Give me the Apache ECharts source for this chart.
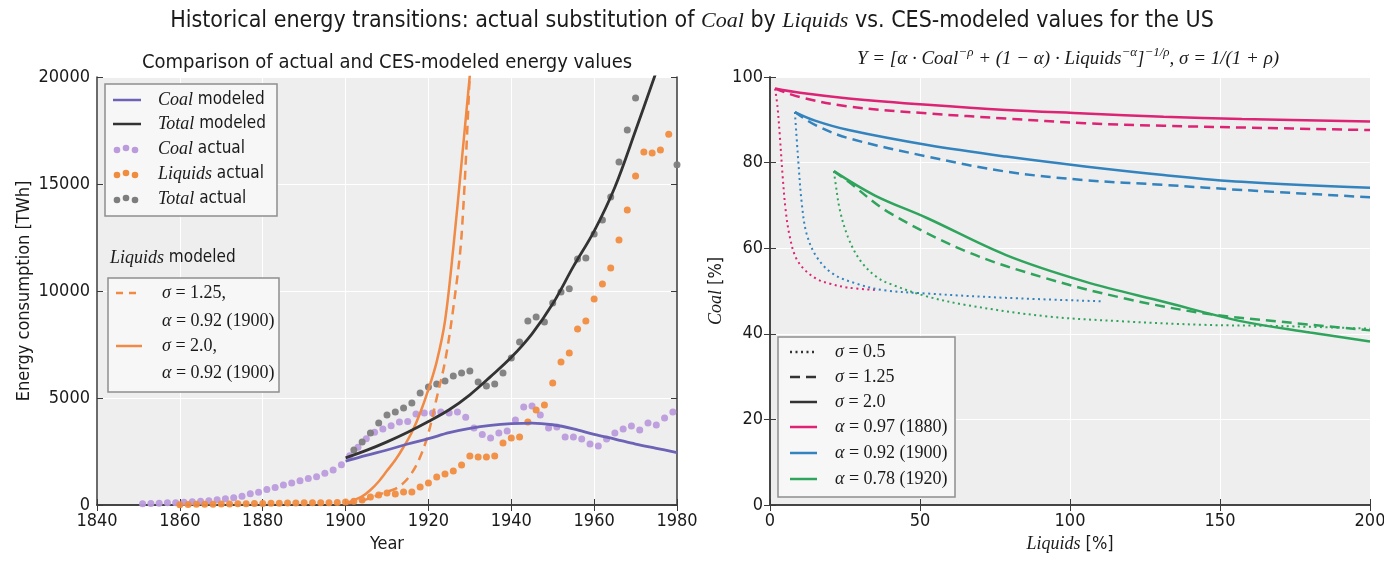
<!DOCTYPE html>
<html>
<head>
<meta charset="utf-8">
<script src="https://cdn.jsdelivr.net/npm/echarts/dist/echarts.min.js"></script>
<style>
  html, body { margin: 0; padding: 0; background: #fff; }
  #chart { width: 1384px; height: 561px; }
</style>
</head>
<body>
<div id="chart"></div>
<script>
// ---- left panel: actual values (dots) ----
const coalYears = [1851,1853,1855,1857,1859,1861,1863,1865,1867,1869,1871,1873,1875,1877,1879,1881,1883,1885,1887,1889,
  1891,1893,1895,1897,1899,1901,1903,1905,1907,1909,1911,1913,1915,1917,1919,1921,1923,1925,1927,1929,
  1931,1933,1935,1937,1939,1941,1943,1945,1947,1949,1951,1953,1955,1957,1959,1961,1963,1965,1967,1969,
  1971,1973,1975,1977,1979];
const coalActual = [60,70,80,100,110,130,150,170,200,240,290,340,410,520,600,730,820,930,1030,1130,
  1240,1320,1480,1640,1880,2300,2700,3100,3400,3550,3700,3880,3900,4250,4300,4300,4350,4300,4350,4100,
  3600,3300,3130,3360,3460,3970,4580,4630,4200,3600,3650,3180,3180,3080,2850,2760,3080,3360,3550,3690,
  3500,3830,3740,4070,4350];

const liquidsYears = [1860,1862,1864,1866,1868,1870,1872,1874,1876,1878,1880,1882,1884,1886,1888,1890,1892,1894,1896,1898,
  1900,1902,1904,1906,1908,1910,1912,1914,1916,1918,1920,1922,1924,1926,1928,1930,1932,1934,1936,1938,
  1940,1942,1944,1946,1948,1950,1952,1954,1956,1958,1960,1962,1964,1966,1968,1970,1972,1974,1976,1978];
const liquidsActual = [10,20,30,40,40,50,50,60,60,70,70,80,80,90,90,100,100,100,110,120,
  140,180,230,370,470,560,510,610,610,840,1030,1310,1450,1590,1870,2290,2240,2240,2290,2900,
  3130,3180,3880,4440,4670,5700,6680,7100,8220,8600,9630,10330,11070,12380,13790,15370,16500,16450,16590,17330];

const totalYears = [1902,1904,1906,1908,1910,1912,1914,1916,1918,1920,1922,1924,1926,1928,1930,1932,1934,1936,1938,1940,
  1942,1944,1946,1948,1950,1952,1954,1956,1958,1960,1962,1964,1966,1968,1970,1980];
const totalActual = [2570,2940,3360,3830,4200,4350,4530,4770,5230,5510,5650,5800,6030,6170,6260,5750,5560,5650,6170,6870,
  7620,8600,8790,8550,9440,9950,10100,11500,11540,12660,13320,14390,16030,17520,19020,15900];

// ---- left panel: modeled curves ----
const coalModelYears = [1900,1905,1910,1915,1920,1925,1930,1935,1940,1945,1950,1955,1960,1965,1970,1975,1980];
const coalModel = [2050,2320,2570,2850,3100,3380,3580,3720,3800,3830,3750,3560,3300,3080,2850,2650,2450];
const totalModelYears = [1900,1905,1910,1915,1920,1925,1930,1935,1940,1945,1950,1955,1960,1965,1970,1975];
const totalModel = [2200,2550,2950,3400,3900,4450,5150,6000,6900,8000,9400,11150,12800,14850,17500,20250];
const liqModelYears = [1900,1902,1904,1906,1908,1910,1912,1914,1916,1918,1920,1922,1924,1926,1928,1930];
const liqSigma125 = [80,120,200,320,480,620,750,1030,1500,2240,3360,5000,6700,9200,12600,20300];
const liqSigma2 = [80,230,400,700,1100,1600,2100,2710,3400,4300,5400,6700,8600,12000,16000,20100];

// ---- right panel: Liquids [%] (x) vs Coal [%] (y) ----
const a97s05X = [1.7,2.5,3.3,4.2,5.2,6.5,8.5,11.5,15.6,20,26,36];
const a97s05Y = [97.3,93,86,77,69,63,58,55,52.8,51.7,50.8,50.2];
const a97s125X = [1.7,10,26.2,52.5,78.7,105,131.2,157.3,200];
const a97s125Y = [97.3,95.3,93.1,91.5,90.3,89.2,88.6,88.2,87.6];
const a97s2X = [1.7,10,26.2,52.5,78.7,105,131.2,157.3,200];
const a97s2Y = [97.3,96.3,95,93.5,92.3,91.5,90.7,90.2,89.6];

const a92s05X = [8.3,9.4,10.6,12.2,15.6,21,28.9,37.8,52.5,78.7,110.2];
const a92s05Y = [91.8,80.6,70.4,63.4,57.9,54,51.7,50.2,49.4,48.4,47.6];
const a92s125X = [8.3,15,26.2,52.5,78.7,105,131.2,157.3,200];
const a92s125Y = [91.8,88.8,85.7,81.4,77.9,75.9,74.8,73.6,71.9];
const a92s2X = [8.3,15,26.2,52.5,78.7,105,131.2,157.3,200];
const a92s2Y = [91.8,89.8,87.6,84.1,81.4,79.1,77.1,75.5,74.1];

const a78s05X = [21.3,21.7,23.3,26,30,35.5,41,52,65.6,91.9,118,144.4,170.6,200];
const a78s05Y = [78,75.9,68.9,62.6,57.2,53.3,51.4,48.8,46.7,44.1,42.9,42.1,41.8,41.2];
const a78s125X = [21.3,26.2,39.3,65.6,91.9,118,144.4,170.6,200];
const a78s125Y = [78,75.5,68.5,59.2,53,48.3,44.8,42.8,40.8];
const a78s2X = [21.3,35,52.5,78.7,105,131.2,157.3,180,200];
const a78s2Y = [78,72.3,67,58.4,52.2,47.5,42.9,40.3,38.2];

// ---- ticks ----
const yearTicks = { min: 1840, max: 1980, interval: 20 };
const energyTicks = { min: 0, max: 20000, interval: 5000 };
const liqPctTicks = { min: 0, max: 200, interval: 50 };
const coalPctTicks = { min: 0, max: 100, interval: 20 };

// colours
const cCoalModel = '#6c62b6';
const cTotalModel = '#333333';
const cCoalDot = '#bb9bdc';
const cLiqDot = '#f08c3e';
const cTotalDot = '#7d7d7d';
const cLiqModel = '#f08a45';
const cPink = '#dc2374';
const cBlue = '#3283be';
const cGreen = '#2fa45c';

const SANS = "'DejaVu Sans Condensed', 'Liberation Sans Narrow', 'DejaVu Sans'";
const SERIF = 'Liberation Serif';
const DOT = [2, 3.5];
const DASH = [10, 6];

const pairs = (xs, ys) => xs.map((x, i) => [x, ys[i]]);

const axisLine = { show: true, lineStyle: { color: '#3a3a3a', width: 1.5 } };
const axisTick = { show: true, inside: true, length: 6, lineStyle: { color: '#3a3a3a', width: 1 } };
const splitLine = { show: true, lineStyle: { color: '#ffffff', width: 1 } };
const axisLabel = { color: '#1a1a1a', fontSize: 18, fontFamily: SANS, margin: 7, formatter: v => String(v) };
const nameStyle = { color: '#1a1a1a', fontSize: 18, fontFamily: SANS,
  rich: { i: { fontFamily: SERIF, fontStyle: 'italic', fontSize: 18, color: '#1a1a1a' } } };

function mainAxis(grid, ticks, pos, name, gap) {
  return Object.assign({ gridIndex: grid, type: 'value', position: pos, axisLine, axisTick,
    axisLabel, splitLine, name, nameLocation: 'middle', nameGap: gap, nameTextStyle: nameStyle }, ticks);
}
function frameAxis(grid, ticks, pos) {
  return Object.assign({ gridIndex: grid, type: 'value', position: pos, axisLine, axisTick,
    axisLabel: { show: false }, splitLine: { show: false } }, ticks);
}

function line(name, xi, xs, ys, color, type, width) {
  return { name, type: 'line', xAxisIndex: xi, yAxisIndex: xi, data: pairs(xs, ys),
    showSymbol: false, smooth: 0.35, clip: true,
    lineStyle: { color, width: width || 2.5, type: type || 'solid', cap: 'butt' } };
}
function dots(name, xs, ys, color) {
  return { name, type: 'scatter', xAxisIndex: 0, yAxisIndex: 0, data: pairs(xs, ys),
    symbolSize: 7, clip: true, itemStyle: { color, opacity: 0.95 } };
}

const serifRich = {
  g: { fontFamily: SERIF, fontStyle: 'italic', fontSize: 18, fill: '#1a1a1a' },
  n: { fontFamily: SERIF, fontSize: 18, fill: '#1a1a1a' },
  i: { fontFamily: SERIF, fontStyle: 'italic', fontSize: 18, fill: '#1a1a1a' },
  s: { fontFamily: SANS, fontSize: 17, fill: '#1a1a1a' }
};
function txt(x, y, text, extra) {
  return Object.assign({ type: 'text', x, y, z: 100,
    style: { text, fill: '#1a1a1a', fontFamily: SANS, fontSize: 17, align: 'left', verticalAlign: 'middle', rich: serifRich } }, extra || {});
}
function legLine(x1, x2, y, color, dash) {
  return { type: 'line', z: 100, shape: { x1, y1: y, x2, y2: y },
    style: { stroke: color, lineWidth: 2.5, lineDash: dash || null } };
}
function legDots(x, y, color) {
  return [[x, y + 1], [x + 9, y - 1], [x + 18, y + 1]].map(p => ({ type: 'circle', z: 100,
    shape: { cx: p[0], cy: p[1], r: 3.3 }, style: { fill: color } }));
}
function box(x, y, w, h) {
  return { type: 'rect', z: 99, shape: { x, y, width: w, height: h },
    style: { fill: '#f7f7f7', stroke: '#8f8f8f', lineWidth: 1.5 } };
}

const chart = echarts.init(document.getElementById('chart'));

const graphic = [
  txt(692, 21, '', {
    style: { text: '{s|Historical energy transitions: actual substitution of }{t|Coal}{s| by }{t|Liquids}{s| vs. CES-modeled values for the US}',
      align: 'center', verticalAlign: 'middle',
      rich: { s: { fontFamily: SANS, fontSize: 23, fill: '#1a1a1a' },
              t: { fontFamily: SERIF, fontStyle: 'italic', fontSize: 22, fill: '#1a1a1a' } } } }),
  txt(387, 63, '', {
    style: { text: 'Comparison of actual and CES-modeled energy values', fill: '#1a1a1a',
      fontFamily: SANS, fontSize: 20, align: 'center', verticalAlign: 'middle' } }),
  txt(1068, 57, '', {
    style: { text: '{m|Y = [α · Coal}{p|−ρ}{m| + (1 − α) · Liquids}{p|−α}{m|]}{p|−1/ρ}{m|, σ = 1/(1 + ρ)}',
      align: 'center', verticalAlign: 'middle',
      rich: { m: { fontFamily: SERIF, fontStyle: 'italic', fontSize: 19, fill: '#1a1a1a', lineHeight: 22, verticalAlign: 'bottom' },
              p: { fontFamily: SERIF, fontStyle: 'italic', fontSize: 13, fill: '#1a1a1a', lineHeight: 22, verticalAlign: 'top' } } } }),

  // left legend, actual / modeled
  box(105, 84, 172, 132),
  legLine(113, 141, 100, cCoalModel),
  txt(158, 100, '{i|Coal}{s| modeled}'),
  legLine(113, 141, 124, cTotalModel),
  txt(158, 124, '{i|Total}{s| modeled}'),
  ...legDots(117, 149, cCoalDot),
  txt(158, 149, '{i|Coal}{s| actual}'),
  ...legDots(117, 174, cLiqDot),
  txt(158, 174, '{i|Liquids}{s| actual}'),
  ...legDots(117, 199, cTotalDot),
  txt(158, 199, '{i|Total}{s| actual}'),

  // left legend, modeled liquids
  txt(110, 258, '{i|Liquids}{s| modeled}'),
  box(108, 278, 171, 114),
  legLine(116, 142, 293, cLiqModel, [7, 6]),
  txt(162, 293, '{g|σ}{n| = 1.25,}'),
  txt(162, 321, '{g|α}{n| = 0.92 (1900)}'),
  legLine(116, 142, 346, cLiqModel),
  txt(162, 346, '{g|σ}{n| = 2.0,}'),
  txt(162, 373, '{g|α}{n| = 0.92 (1900)}'),

  // right legend
  box(778, 337, 177, 160),
  legLine(790, 817, 352, '#333333', DOT),
  txt(835, 352, '{g|σ}{n| = 0.5}'),
  legLine(790, 817, 377, '#333333', DASH),
  txt(835, 377, '{g|σ}{n| = 1.25}'),
  legLine(790, 817, 402, '#333333'),
  txt(835, 402, '{g|σ}{n| = 2.0}'),
  legLine(790, 817, 427, cPink),
  txt(835, 427, '{g|α}{n| = 0.97 (1880)}'),
  legLine(790, 817, 453, cBlue),
  txt(835, 453, '{g|α}{n| = 0.92 (1900)}'),
  legLine(790, 817, 479, cGreen),
  txt(835, 479, '{g|α}{n| = 0.78 (1920)}')
];

const option = {
  backgroundColor: '#ffffff',
  animation: false,
  textStyle: { fontFamily: SANS },
  grid: [
    { left: 97, top: 77, right: 707, bottom: 56, show: true, backgroundColor: '#eeeeee', borderWidth: 0, outerBoundsMode: 'none' },
    { left: 770, top: 77, right: 14, bottom: 56, show: true, backgroundColor: '#eeeeee', borderWidth: 0, outerBoundsMode: 'none' }
  ],
  xAxis: [
    mainAxis(0, yearTicks, 'bottom', 'Year', 30),
    mainAxis(1, liqPctTicks, 'bottom', '{i|Liquids} [%]', 30),
    frameAxis(0, yearTicks, 'top'),
    frameAxis(1, liqPctTicks, 'top')
  ],
  yAxis: [
    mainAxis(0, energyTicks, 'left', 'Energy consumption [TWh]', 64),
    mainAxis(1, coalPctTicks, 'left', '{i|Coal} [%]', 45),
    frameAxis(0, energyTicks, 'right'),
    frameAxis(1, coalPctTicks, 'right')
  ],
  graphic,
  series: [
    dots('Coal actual', coalYears, coalActual, cCoalDot),
    dots('Liquids actual', liquidsYears, liquidsActual, cLiqDot),
    dots('Total actual', totalYears, totalActual, cTotalDot),
    line('Liquids modeled s=1.25', 0, liqModelYears, liqSigma125, cLiqModel, [9, 6]),
    line('Liquids modeled s=2.0', 0, liqModelYears, liqSigma2, cLiqModel),
    line('Coal modeled', 0, coalModelYears, coalModel, cCoalModel, 'solid', 2.8),
    line('Total modeled', 0, totalModelYears, totalModel, cTotalModel, 'solid', 2.8),

    line('a0.97 s0.5', 1, a97s05X, a97s05Y, cPink, DOT, 2),
    line('a0.97 s1.25', 1, a97s125X, a97s125Y, cPink, DASH),
    line('a0.97 s2.0', 1, a97s2X, a97s2Y, cPink),
    line('a0.92 s0.5', 1, a92s05X, a92s05Y, cBlue, DOT, 2),
    line('a0.92 s1.25', 1, a92s125X, a92s125Y, cBlue, DASH),
    line('a0.92 s2.0', 1, a92s2X, a92s2Y, cBlue),
    line('a0.78 s0.5', 1, a78s05X, a78s05Y, cGreen, DOT, 2),
    line('a0.78 s1.25', 1, a78s125X, a78s125Y, cGreen, DASH),
    line('a0.78 s2.0', 1, a78s2X, a78s2Y, cGreen)
  ]
};

chart.setOption(option);
</script>
</body>
</html>
